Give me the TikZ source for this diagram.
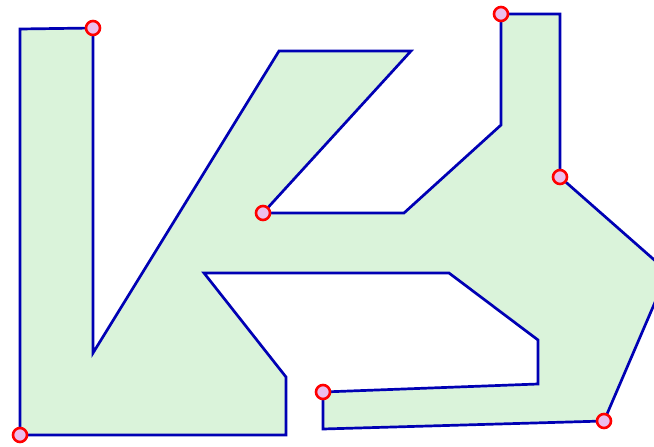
\documentclass[tikz,border=0pt]{standalone}
\begin{document}
\begin{tikzpicture}[x=1pt,y=-1pt,
  poly/.style={draw={rgb,255:red,0;green,0;blue,180},fill={rgb,255:red,218;green,243;blue,218},line width=2.7pt,line join=miter},
  vtx/.style={circle,draw={rgb,255:red,255;green,0;blue,0},fill={rgb,255:red,236;green,190;blue,236},line width=2.6pt,minimum size=14pt,inner sep=0pt}]
\useasboundingbox (0,0) rectangle (654,447);
\begin{scope}
\clip (0,0) rectangle (654,447);
\coordinate (p1) at (20,435);
\coordinate (p2) at (20,29);
\coordinate (p3) at (93,28);
\coordinate (p4) at (93,353);
\coordinate (p5) at (279,51);
\coordinate (p6) at (411,51);
\coordinate (p7) at (263,213);
\coordinate (p8) at (404,213);
\coordinate (p9) at (501,125);
\coordinate (p10) at (501,14);
\coordinate (p11) at (560,14);
\coordinate (p12) at (560,177);
\coordinate (p13) at (668,272);
\coordinate (p14) at (604,421);
\coordinate (p15) at (323,429);
\coordinate (p16) at (323,392);
\coordinate (p17) at (538,384);
\coordinate (p18) at (538,340);
\coordinate (p19) at (449,273);
\coordinate (p20) at (204,273);
\coordinate (p21) at (286,377);
\coordinate (p22) at (286,435);
\draw[poly] (p1) -- (p2) -- (p3) -- (p4) -- (p5) -- (p6) -- (p7) -- (p8) -- (p9) -- (p10) -- (p11) -- (p12) -- (p13) -- (p14) -- (p15) -- (p16) -- (p17) -- (p18) -- (p19) -- (p20) -- (p21) -- (p22) -- cycle;
\end{scope}
\foreach \p in {p1,p3,p7,p10,p12,p14,p16} \node[vtx] (v\p) at (\p) {};
\end{tikzpicture}
\end{document}
